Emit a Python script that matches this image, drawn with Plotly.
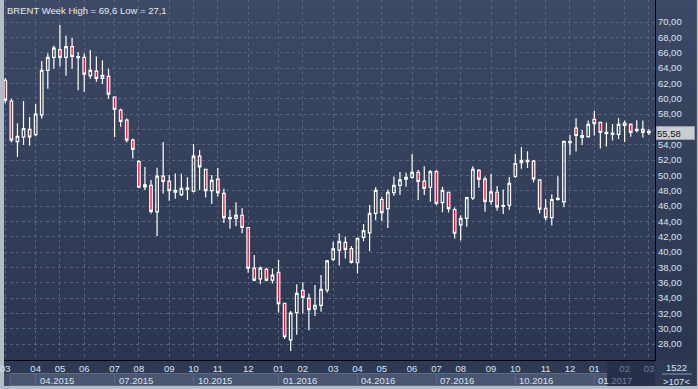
import plotly.graph_objects as go
import pandas as pd

# ---------------- data ----------------
mondays = pd.date_range("2015-03-02", "2017-03-06", freq="W-MON")
weeks = [d.strftime("%Y-%m-%d") for d in mondays]
# year-end split bar
weeks.insert(weeks.index("2015-12-28") + 1, "2015-12-31")

open_ = [62.4, 59.7, 54.4, 55.0, 56.0, 55.3, 57.9, 63.7, 65.4, 66.4,
         65.4, 66.8, 65.35, 65.4, 63.0, 63.6, 62.65, 62.9, 60.2, 58.5,
         57.2, 54.6, 51.8, 48.5, 48.7, 45.25, 49.9, 49.25, 48.05, 47.5,
         48.2, 47.95, 52.5, 50.8, 48.0, 49.5, 47.65, 44.35, 44.4, 44.8,
         43.2, 37.9, 36.5, 37.75, 36.35, 37.35, 33.3, 28.55, 32.1, 35.0,
         33.95, 32.6, 33.05, 35.05, 39.05, 40.25, 41.25, 40.45, 38.6, 41.9,
         42.5, 45.05, 46.85, 45.65, 47.75, 48.7, 49.5, 49.75, 50.4, 49.25,
         48.45, 50.5, 46.45, 47.8, 45.55, 43.55, 44.4, 47.05, 50.65, 49.5,
         46.6, 47.8, 45.95, 46.1, 49.85, 51.65, 51.8, 51.85, 49.4, 45.7,
         44.5, 46.85, 46.55, 54.25, 56.15, 55.2, 55.05, 57.3, 56.9, 55.45,
         55.35, 55.35, 56.8, 56.65, 55.85, 56.0, 55.75]
high = [62.7, 60.0, 56.8, 59.7, 57.6, 59.3, 64.9, 65.9, 66.9, 69.6,
        68.2, 67.9, 66.1, 65.9, 66.35, 65.5, 65.0, 63.9, 60.3, 58.7,
        57.4, 54.8, 52.0, 51.1, 49.4, 51.0, 54.35, 50.05, 50.25, 50.2,
        49.75, 54.1, 53.3, 50.85, 50.05, 50.95, 48.25, 45.5, 46.5, 45.7,
        43.25, 39.6, 38.1, 37.95, 37.85, 38.95, 33.35, 32.3, 35.8, 36.05,
        34.6, 35.7, 37.0, 38.95, 41.35, 42.45, 42.0, 40.8, 41.9, 43.65,
        46.15, 48.45, 47.2, 48.15, 49.85, 50.45, 50.35, 52.8, 50.7, 51.2,
        50.7, 50.7, 48.5, 47.85, 45.8, 44.8, 47.15, 51.2, 50.8, 49.85,
        50.2, 48.6, 48.15, 49.8, 52.8, 53.7, 53.15, 52.0, 49.5, 46.9,
        47.55, 49.9, 54.5, 55.25, 57.45, 55.9, 57.15, 58.4, 56.95, 56.9,
        56.7, 57.45, 57.15, 56.8, 57.2, 57.15, 56.0]
low = [59.4, 54.3, 52.4, 54.0, 53.9, 55.1, 57.4, 61.3, 63.9, 64.2,
       63.0, 63.9, 61.1, 60.9, 62.6, 62.2, 61.9, 60.0, 55.0, 56.35,
       54.3, 52.2, 48.4, 48.1, 45.0, 42.1, 47.65, 46.7, 46.95, 47.3,
       46.8, 47.75, 48.1, 47.1, 46.25, 47.2, 43.8, 43.05, 43.4, 42.45,
       37.3, 36.2, 35.8, 36.2, 35.9, 32.1, 28.65, 27.1, 29.2, 32.0,
       29.8, 31.65, 32.2, 34.7, 38.8, 38.25, 39.15, 38.5, 37.2, 41.4,
       40.1, 44.15, 44.05, 43.15, 47.35, 47.45, 48.5, 49.55, 46.8, 47.45,
       46.55, 46.1, 45.2, 45.15, 41.75, 41.5, 43.3, 46.8, 48.4, 45.25,
       46.2, 45.4, 44.95, 45.5, 49.65, 50.85, 50.95, 49.1, 45.05, 44.1,
       43.45, 46.7, 45.85, 52.65, 53.1, 53.95, 54.9, 55.2, 53.5, 53.75,
       54.55, 54.75, 54.35, 55.05, 55.6, 54.95, 55.25]
close = [59.8, 54.6, 55.1, 56.1, 55.0, 58.0, 63.7, 65.4, 66.6, 65.4,
         66.8, 65.5, 65.5, 63.2, 63.7, 62.65, 63.05, 60.6, 58.6, 57.05,
         54.6, 53.4, 48.45, 48.75, 45.3, 49.9, 49.2, 48.0, 47.8, 48.3,
         48.35, 52.5, 51.1, 48.0, 49.35, 47.75, 44.5, 44.5, 44.8, 43.2,
         37.9, 36.35, 37.9, 36.35, 37.0, 33.25, 28.95, 32.05, 34.6, 34.1,
         32.5, 33.05, 35.15, 38.85, 40.4, 41.4, 40.35, 38.65, 41.8, 42.8,
         45.05, 48.05, 45.15, 47.8, 48.7, 49.4, 49.75, 50.4, 49.2, 48.3,
         50.5, 46.35, 48.05, 45.65, 42.45, 44.4, 47.1, 50.8, 49.5, 46.6,
         47.85, 45.9, 46.05, 48.95, 51.55, 51.95, 51.95, 49.55, 45.6, 44.5,
         46.85, 47.0, 54.45, 54.4, 55.2, 54.95, 56.65, 56.75, 55.6, 55.6,
         55.5, 56.65, 56.5, 55.6, 56.0, 55.6, 55.58]

y_ticks = list(range(28, 71, 2))
title_text = "BRENT Week High = 69,6 Low = 27,1"
last_label = "55,58"
corner_top = "1522"
corner_bottom = ">107<"

# ---------------- helpers (pixel geometry) ----------------
W, H = 698, 389
L, R, T, B = 2, 43, 0, 29
PW, PH = W - L - R, H - T - B


def px2x(px):
    return (px - L) / PW


def py2y(py):
    return 1 - (py - T) / PH


FONT = "Liberation Sans"
TXT = "#d9e3f2"
DIM = "#6f7c98"

# month ticks / quarter starts
month_idx = [0] + [i for i in range(1, len(weeks)) if weeks[i][5:7] != weeks[i - 1][5:7]]
tickvals = [weeks[i] for i in month_idx]
ticktext = []
for i in month_idx:
    m = weeks[i][5:7]
    if weeks[i][:7] in ("2017-02", "2017-03"):
        ticktext.append(f"<span style='color:{DIM}'>{m}</span>")
    else:
        ticktext.append(m)
quarter_idx = [i for i in month_idx if weeks[i][5:7] in ("01", "04", "07", "10")]

shapes = []
# background gradient (paper)
top_c = (61, 73, 100)
bot_c = (43, 53, 79)
n = 30
for k in range(n):
    f = (k + 0.5) / n
    c = tuple(int(round(top_c[j] + (bot_c[j] - top_c[j]) * f)) for j in range(3))
    shapes.append(dict(type="rect", xref="paper", yref="paper", layer="below",
                       x0=px2x(2), x1=px2x(697), y0=py2y(360 * (k + 1) / n + 0.5), y1=py2y(360 * k / n),
                       fillcolor=f"rgb{c}", line=dict(width=0)))
# bottom strip
shapes.append(dict(type="rect", xref="paper", yref="paper", layer="below",
                   x0=px2x(2), x1=px2x(697), y0=py2y(386), y1=py2y(360),
                   fillcolor="#2e3953", line=dict(width=0)))
shapes.append(dict(type="rect", xref="paper", yref="paper", layer="below",
                   x0=px2x(2), x1=px2x(655), y0=py2y(386), y1=py2y(373),
                   fillcolor="#414d67", line=dict(width=0)))
# quarter boxes
bounds = [0.8] + quarter_idx + [106.5]
for a, b in zip(bounds[:-1], bounds[1:]):
    shapes.append(dict(type="rect", xref="x", yref="paper", layer="below",
                       x0=a, x1=b, y0=py2y(385.5), y1=py2y(373.5),
                       fillcolor="#4a5670", line=dict(color="#5d6a86", width=1)))
# dimmed current section
shapes.append(dict(type="rect", xref="paper", yref="paper", layer="below",
                   x0=px2x(607), x1=px2x(655), y0=py2y(386), y1=py2y(361),
                   fillcolor="#27304a", line=dict(width=0)))
# corner box separator
shapes.append(dict(type="line", xref="paper", yref="paper",
                   x0=px2x(662), x1=px2x(692), y0=py2y(374), y1=py2y(374),
                   line=dict(color="#8a96ad", width=1)))

annotations = [
    dict(text=title_text, xref="paper", yref="paper", x=px2x(3), y=py2y(10),
         xanchor="left", yanchor="middle", showarrow=False,
         font=dict(family=FONT, size=9.5, color="#e2e9f4")),
    dict(text=last_label, xref="paper", yref="y", x=1, y=close[-1], xanchor="left", yanchor="middle",
         xshift=1, showarrow=False, bgcolor="#c9cdd4", bordercolor="#9aa0aa", borderwidth=1,
         borderpad=0, width=37, height=12, align="left",
         font=dict(family=FONT, size=9.5, color="#111111")),
    dict(text=corner_top, xref="paper", yref="paper", x=px2x(677), y=py2y(367),
         xanchor="center", yanchor="middle", showarrow=False,
         font=dict(family=FONT, size=9.5, color=TXT)),
    dict(text=corner_bottom, xref="paper", yref="paper", x=px2x(677), y=py2y(381),
         xanchor="center", yanchor="middle", showarrow=False,
         font=dict(family=FONT, size=9.5, color=TXT)),
]
for qi in quarter_idx:
    y_, m_ = weeks[qi][:4], weeks[qi][5:7]
    if y_ == "2017":
        txt = f"{m_}<span style='color:{DIM}'>.{y_}</span>"
    else:
        txt = f"{m_}.{y_}"
    annotations.append(dict(text=txt, xref="x", yref="paper", x=qi, y=py2y(380),
                            xanchor="left", yanchor="middle", xshift=2, showarrow=False,
                            font=dict(family=FONT, size=9.5, color=TXT)))

fig = go.Figure()
fig.add_trace(go.Candlestick(
    x=weeks, open=open_, high=high, low=low, close=close,
    increasing=dict(line=dict(color="#ffffff", width=1.2), fillcolor="rgba(0,0,0,0)"),
    decreasing=dict(line=dict(color="#ffffff", width=1.2), fillcolor="#e3173e"),
    whiskerwidth=0, showlegend=False, hoverinfo="skip"))

grid = "#56647f"
fig.update_layout(
    width=W, height=H, margin=dict(l=L, r=R, t=T, b=B, pad=0),
    paper_bgcolor="#b4bcc8", plot_bgcolor="rgba(0,0,0,0)",
    separators=",.", boxgap=0.4, showlegend=False,
    shapes=shapes, annotations=annotations,
    xaxis=dict(type="category", categoryorder="array", categoryarray=weeks,
               range=[-0.213, 107.0], rangeslider=dict(visible=False),
               tickmode="array", tickvals=tickvals, ticktext=ticktext, ticks="",
               showgrid=True, gridcolor=grid, griddash="3px,3px", gridwidth=1,
               showline=True, linecolor="#000000", linewidth=1, zeroline=False,
               tickfont=dict(family=FONT, size=9.5, color=TXT), fixedrange=True),
    yaxis=dict(side="right", range=[25.92, 72.87], tickmode="array", tickvals=y_ticks,
               tickformat=".2f", ticks="", showgrid=True, gridcolor=grid, griddash="3px,3px",
               gridwidth=1, showline=True, linecolor="#000000", linewidth=1, zeroline=False,
               tickfont=dict(family=FONT, size=9.5, color=TXT), fixedrange=True),
)

fig.write_html("out.html", config={"displayModeBar": False},
               post_script="document.body.style.margin='0';document.body.style.overflow='hidden';")
